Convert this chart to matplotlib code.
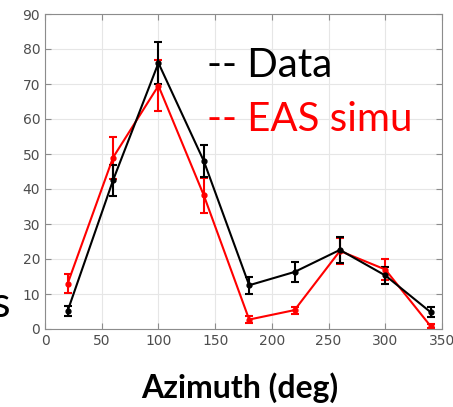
import numpy as np
import matplotlib.pyplot as plt

# azimuth bins (deg)
azimuth = [20, 60, 100, 140, 180, 220, 260, 300, 340]

# measured data
data_val = [5.2, 42.5, 76, 48, 12.5, 16.3, 22.6, 15.3, 4.8]
data_err = [1.5, 4.5, 6, 4.6, 2.5, 2.8, 3.6, 2.3, 1.5]

# EAS simulation
simu_val = [13, 49, 69.5, 38.2, 2.7, 5.4, 22.3, 17, 0.8]
simu_err = [2.8, 6, 7.3, 5, 0.9, 1.0, 3.7, 2.9, 0.5]

fig = plt.figure(figsize=(4.53, 4.07), dpi=100)
ax = fig.add_axes([45 / 453, 1 - 329 / 407, 397 / 453, 315 / 407])

ax.errorbar(azimuth, simu_val, yerr=simu_err, color="red", lw=1.5,
            marker="o", ms=3.5, capsize=3, capthick=1.5, elinewidth=1.5)
ax.errorbar(azimuth, data_val, yerr=data_err, color="black", lw=1.5,
            marker="o", ms=3.5, capsize=3, capthick=1.5, elinewidth=1.5)

ax.set_xlim(0, 350)
ax.set_ylim(0, 90)
ax.set_xticks(np.arange(0, 351, 50))
ax.set_yticks(np.arange(0, 91, 10))
ax.grid(True, color="#e6e6e6", lw=0.8)
ax.set_axisbelow(True)
for s in ax.spines.values():
    s.set_color("#8c8c8c")
    s.set_linewidth(0.8)
ax.tick_params(direction="in", length=4, color="#8c8c8c", labelcolor="#4d4d4d",
               labelsize=10, top=True, right=True)

# big legend-like texts
fig.text(207 / 453, 1 - 77 / 407, "-- Data", color="black", fontsize=29,
         family="Lato", ha="left", va="baseline")
fig.text(207 / 453, 1 - 131 / 407, "-- EAS simu", color="red", fontsize=29,
         family="Lato", ha="left", va="baseline")

fig.text(240 / 453, 1 - 398 / 407, "Azimuth (deg)", fontsize=23, fontweight="bold",
         family="Lato", ha="center", va="baseline")
# cut-off label on the left edge
fig.text(11 / 453, 1 - 317 / 407, "Events", fontsize=31, family="Lato",
         ha="right", va="baseline")

fig.savefig("out.png", dpi=100)
